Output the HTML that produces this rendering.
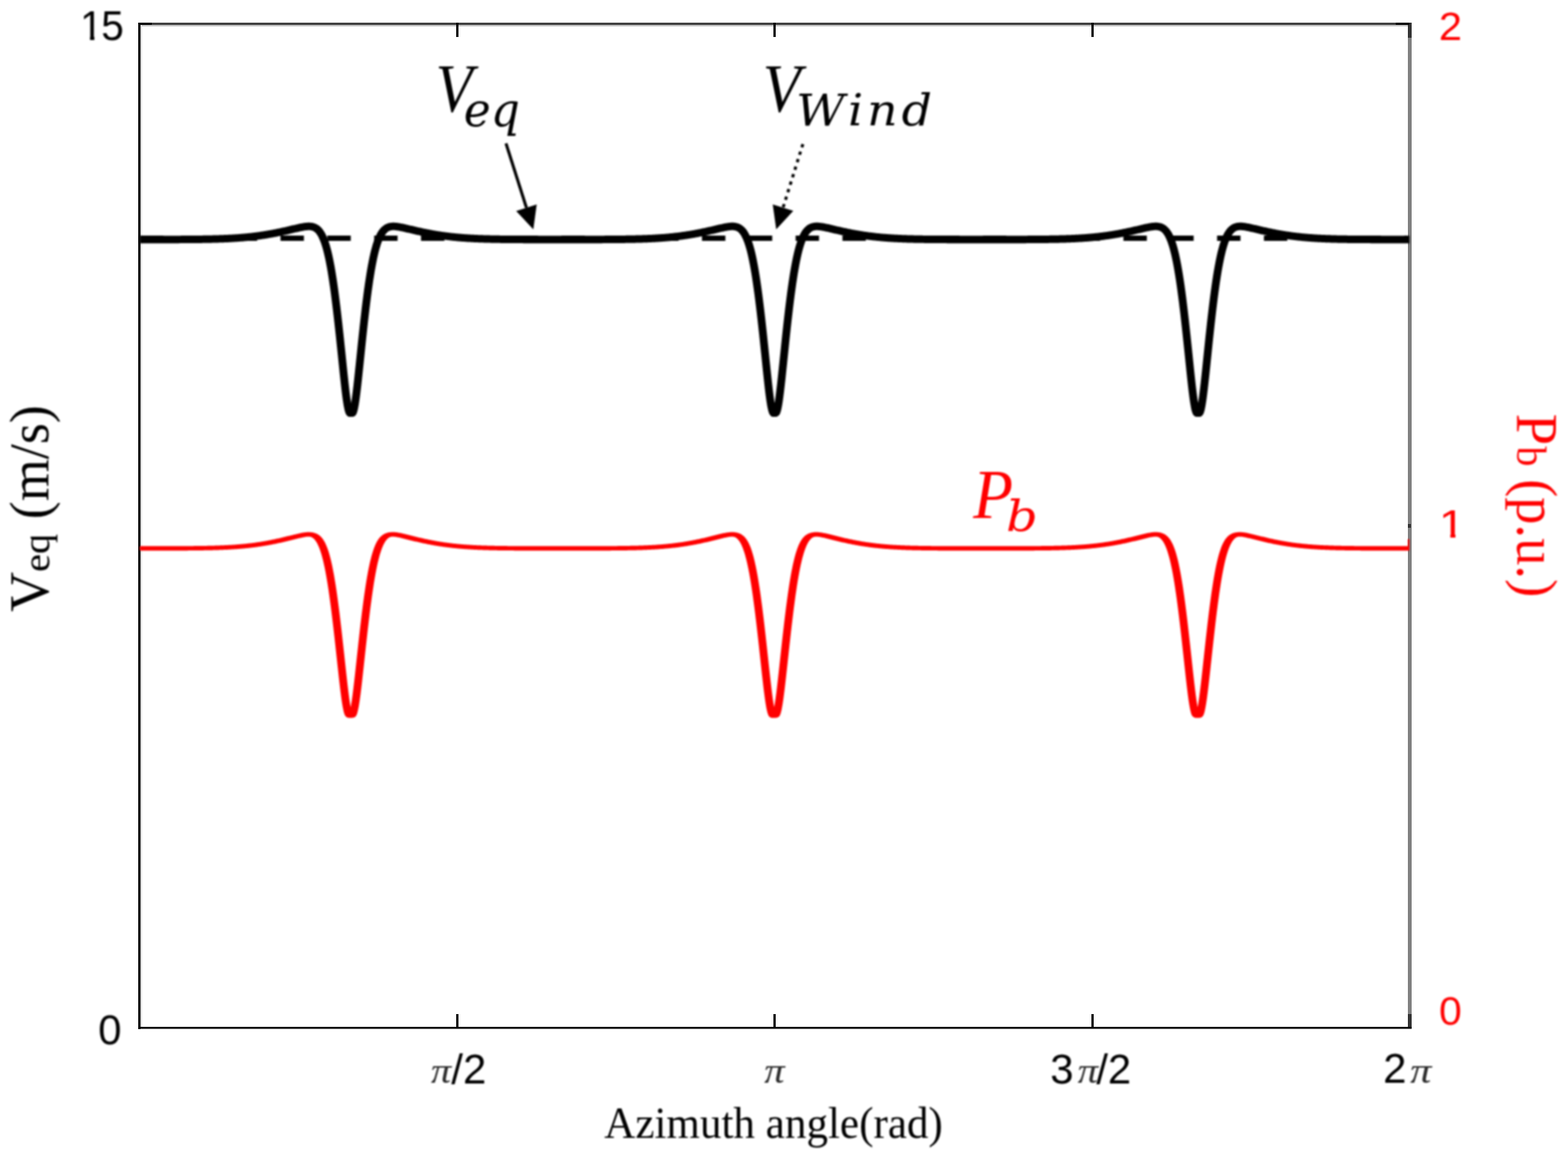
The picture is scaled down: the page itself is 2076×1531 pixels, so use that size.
<!DOCTYPE html>
<html lang="en"><head><meta charset="utf-8"><title>Equivalent wind speed and blade power vs azimuth angle</title>
<style>html,body{margin:0;padding:0;background:#fff}#fig{position:relative;width:2076px;height:1531px;overflow:hidden;background:#fff}#ink{position:absolute;left:0;top:0;width:2076px;height:1531px;filter:blur(0.8px)}#fig svg{position:absolute;left:0;top:0;display:block}.t{position:absolute;left:0;top:0;margin:0;white-space:nowrap;font-size:0;line-height:0}.t span{display:inline-block;width:0;height:0;vertical-align:top;white-space:pre;line-height:1;transform-origin:0 0}</style></head><body><div id="fig">
<svg width="2076" height="1531" viewBox="0 0 2076 1531">
<rect width="2076" height="1531" fill="#fff"/>
<g shape-rendering="crispEdges">
<rect x="183" y="30" width="1686" height="3" fill="#404040"/>
<rect x="186" y="33" width="1678" height="2" fill="#c4c4c4"/>
<rect x="1864" y="30" width="5" height="1332" fill="#808080"/>
<rect x="1864" y="30" width="5" height="20" fill="#333"/>
<rect x="1864" y="1343" width="5" height="19" fill="#333"/>
<rect x="1864" y="694" width="4" height="5" fill="#333"/>
<rect x="186" y="33" width="2" height="1327" fill="#ddd"/>
<rect x="183" y="30" width="3" height="1333" fill="#000"/>
</g><rect x="183" y="1359.95" width="1686" height="2.6" fill="#000"/><g shape-rendering="crispEdges">
<rect x="183" y="30" width="18" height="3" fill="#000"/>
<rect x="1848" y="30" width="18" height="3" fill="#000"/>
<rect x="603.5" y="1343" width="3" height="18" fill="#000"/>
<rect x="603.5" y="30" width="3" height="19" fill="#000"/>
<rect x="1024.0" y="1343" width="3" height="18" fill="#000"/>
<rect x="1024.0" y="30" width="3" height="19" fill="#000"/>
<rect x="1444.5" y="1343" width="3" height="18" fill="#000"/>
<rect x="1444.5" y="30" width="3" height="19" fill="#000"/>
</g></svg>
<div id="ink"><svg width="2076" height="1531" viewBox="0 0 2076 1531">
<line x1="185.4" y1="315.45" x2="1864" y2="315.45" stroke="#000" stroke-width="7" stroke-dasharray="31 31"/>
<g transform="scale(1 0.970)"><path d="M185 327.00L186 327.00L187 327.00L188 327.00L189 327.00L190 327.00L191 327.00L192 327.00L193 327.00L194 327.00L195 327.00L196 327.00L197 327.00L198 327.00L199 327.00L200 327.00L201 327.00L202 327.00L203 327.00L204 327.00L205 327.00L206 327.00L207 327.00L208 326.99L209 326.99L210 326.99L211 326.99L212 326.99L213 326.99L214 326.99L215 326.99L216 326.99L217 326.98L218 326.98L219 326.98L220 326.98L221 326.98L222 326.98L223 326.97L224 326.97L225 326.97L226 326.97L227 326.97L228 326.96L229 326.96L230 326.96L231 326.96L232 326.95L233 326.95L234 326.95L235 326.94L236 326.94L237 326.94L238 326.93L239 326.93L240 326.92L241 326.92L242 326.91L243 326.91L244 326.90L245 326.90L246 326.89L247 326.89L248 326.88L249 326.87L250 326.87L251 326.86L252 326.85L253 326.84L254 326.83L255 326.83L256 326.82L257 326.81L258 326.80L259 326.79L260 326.78L261 326.77L262 326.75L263 326.74L264 326.73L265 326.72L266 326.70L267 326.69L268 326.67L269 326.66L270 326.64L271 326.63L272 326.61L273 326.59L274 326.57L275 326.55L276 326.53L277 326.51L278 326.49L279 326.47L280 326.44L281 326.42L282 326.39L283 326.37L284 326.34L285 326.31L286 326.28L287 326.25L288 326.22L289 326.19L290 326.16L291 326.12L292 326.09L293 326.05L294 326.01L295 325.97L296 325.93L297 325.89L298 325.84L299 325.80L300 325.75L301 325.70L302 325.66L303 325.60L304 325.55L305 325.50L306 325.44L307 325.38L308 325.32L309 325.26L310 325.20L311 325.14L312 325.07L313 325.00L314 324.93L315 324.86L316 324.78L317 324.71L318 324.63L319 324.55L320 324.46L321 324.38L322 324.29L323 324.20L324 324.11L325 324.01L326 323.92L327 323.82L328 323.72L329 323.61L330 323.51L331 323.40L332 323.29L333 323.17L334 323.06L335 322.94L336 322.82L337 322.69L338 322.56L339 322.43L340 322.30L341 322.17L342 322.03L343 321.89L344 321.74L345 321.60L346 321.45L347 321.30L348 321.14L349 320.98L350 320.82L351 320.66L352 320.49L353 320.32L354 320.15L355 319.98L356 319.80L357 319.62L358 319.44L359 319.25L360 319.06L361 318.87L362 318.68L363 318.48L364 318.28L365 318.08L366 317.87L367 317.67L368 317.46L369 317.25L370 317.03L371 316.81L372 316.60L373 316.37L374 316.15L375 315.93L376 315.70L377 315.47L378 315.24L379 315.00L380 314.77L381 314.53L382 314.30L383 314.06L384 313.82L385 313.58L386 313.33L387 313.09L388 312.85L389 312.61L390 312.37L391 312.13L392 311.89L393 311.65L394 311.42L395 311.19L396 310.96L397 310.74L398 310.52L399 310.32L400 310.12L401 309.93L402 309.75L403 309.59L404 309.44L405 309.31L406 309.21L407 309.13L408 309.08L409 309.07L410 309.09L411 309.15L412 309.27L413 309.44L414 309.68L415 309.98L416 310.37L417 310.84L418 311.42L419 312.10L420 312.90L421 313.84L422 314.93L423 316.18L424 317.60L425 319.22L426 321.05L427 323.10L428 325.39L429 327.94L430 330.76L431 333.88L432 337.31L433 341.07L434 345.16L435 349.61L436 354.43L437 359.62L438 365.19L439 371.16L440 377.51L441 384.26L442 391.39L443 398.90L444 406.77L445 415.00L446 423.56L447 432.44L448 441.60L449 451.03L450 460.68L451 470.53L452 480.51L453 490.57L454 500.61L455 510.53L456 520.18L457 529.38L458 537.95L459 545.66L460 552.30L461 557.66L461.40 559.41L462 561.55L462.40 562.64L463 563.73L463.40 564.02L464 564.02L464.40 564.02L465 564.02L465.40 564.02L466 564.02L466.40 564.02L467 563.44L467.40 562.64L468 560.90L468.40 559.41L469 556.70L470 551.07L471 544.20L472 536.30L473 527.59L474 518.28L475 508.56L476 498.61L477 488.56L478 478.51L479 468.55L480 458.73L481 449.12L482 439.75L483 430.64L484 421.82L485 413.33L486 405.17L487 397.37L488 389.93L489 382.88L490 376.21L491 369.93L492 364.05L493 358.55L494 353.43L495 348.69L496 344.31L497 340.29L498 336.60L499 333.24L500 330.18L501 327.41L502 324.91L503 322.67L504 320.66L505 318.88L506 317.30L507 315.92L508 314.70L509 313.64L510 312.73L511 311.95L512 311.29L513 310.74L514 310.28L515 309.92L516 309.63L517 309.40L518 309.24L519 309.14L520 309.08L521 309.07L522 309.09L523 309.14L524 309.23L525 309.34L526 309.47L527 309.62L528 309.78L529 309.96L530 310.15L531 310.36L532 310.57L533 310.78L534 311.01L535 311.23L536 311.46L537 311.70L538 311.94L539 312.18L540 312.42L541 312.66L542 312.90L543 313.14L544 313.38L545 313.62L546 313.86L547 314.10L548 314.34L549 314.58L550 314.82L551 315.05L552 315.28L553 315.51L554 315.74L555 315.97L556 316.20L557 316.42L558 316.64L559 316.86L560 317.07L561 317.29L562 317.50L563 317.71L564 317.92L565 318.12L566 318.32L567 318.52L568 318.72L569 318.91L570 319.10L571 319.29L572 319.47L573 319.66L574 319.84L575 320.01L576 320.19L577 320.36L578 320.53L579 320.69L580 320.85L581 321.01L582 321.17L583 321.33L584 321.48L585 321.63L586 321.77L587 321.92L588 322.06L589 322.19L590 322.33L591 322.46L592 322.59L593 322.72L594 322.84L595 322.96L596 323.08L597 323.20L598 323.31L599 323.42L600 323.53L601 323.63L602 323.74L603 323.84L604 323.94L605 324.03L606 324.13L607 324.22L608 324.31L609 324.40L610 324.48L611 324.56L612 324.64L613 324.72L614 324.80L615 324.87L616 324.94L617 325.01L618 325.08L619 325.15L620 325.21L621 325.28L622 325.34L623 325.40L624 325.45L625 325.51L626 325.56L627 325.61L628 325.67L629 325.71L630 325.76L631 325.81L632 325.85L633 325.90L634 325.94L635 325.98L636 326.02L637 326.06L638 326.09L639 326.13L640 326.16L641 326.20L642 326.23L643 326.26L644 326.29L645 326.32L646 326.35L647 326.37L648 326.40L649 326.42L650 326.45L651 326.47L652 326.49L653 326.52L654 326.54L655 326.56L656 326.58L657 326.59L658 326.61L659 326.63L660 326.65L661 326.66L662 326.68L663 326.69L664 326.71L665 326.72L666 326.73L667 326.74L668 326.76L669 326.77L670 326.78L671 326.79L672 326.80L673 326.81L674 326.82L675 326.83L676 326.84L677 326.84L678 326.85L679 326.86L680 326.87L681 326.87L682 326.88L683 326.89L684 326.89L685 326.90L686 326.90L687 326.91L688 326.91L689 326.92L690 326.92L691 326.93L692 326.93L693 326.94L694 326.94L695 326.94L696 326.95L697 326.95L698 326.95L699 326.96L700 326.96L701 326.96L702 326.96L703 326.97L704 326.97L705 326.97L706 326.97L707 326.97L708 326.98L709 326.98L710 326.98L711 326.98L712 326.98L713 326.98L714 326.99L715 326.99L716 326.99L717 326.99L718 326.99L719 326.99L720 326.99L721 326.99L722 326.99L723 327.00L724 327.00L725 327.00L726 327.00L727 327.00L728 327.00L729 327.00L730 327.00L731 327.00L732 327.00L733 327.00L734 327.00L735 327.00L736 327.00L737 327.00L738 327.00L739 327.00L740 327.00L741 327.00L742 327.00L743 327.00L744 327.00L745 327.00L746 327.00L747 327.00L748 327.00L749 327.00L750 327.00L751 327.00L752 327.00L753 327.00L754 327.00L755 327.00L756 327.00L757 327.00L758 327.00L759 327.00L760 327.00L761 327.00L762 327.00L763 327.00L764 327.00L765 327.00L766 327.00L767 327.00L768 326.99L769 326.99L770 326.99L771 326.99L772 326.99L773 326.99L774 326.99L775 326.99L776 326.99L777 326.99L778 326.98L779 326.98L780 326.98L781 326.98L782 326.98L783 326.98L784 326.97L785 326.97L786 326.97L787 326.97L788 326.97L789 326.96L790 326.96L791 326.96L792 326.95L793 326.95L794 326.95L795 326.94L796 326.94L797 326.94L798 326.93L799 326.93L800 326.93L801 326.92L802 326.92L803 326.91L804 326.91L805 326.90L806 326.90L807 326.89L808 326.88L809 326.88L810 326.87L811 326.86L812 326.86L813 326.85L814 326.84L815 326.83L816 326.82L817 326.81L818 326.80L819 326.79L820 326.78L821 326.77L822 326.76L823 326.75L824 326.74L825 326.73L826 326.71L827 326.70L828 326.68L829 326.67L830 326.65L831 326.64L832 326.62L833 326.60L834 326.58L835 326.57L836 326.55L837 326.53L838 326.50L839 326.48L840 326.46L841 326.44L842 326.41L843 326.39L844 326.36L845 326.33L846 326.30L847 326.27L848 326.24L849 326.21L850 326.18L851 326.14L852 326.11L853 326.07L854 326.04L855 326.00L856 325.96L857 325.92L858 325.87L859 325.83L860 325.78L861 325.74L862 325.69L863 325.64L864 325.59L865 325.53L866 325.48L867 325.42L868 325.36L869 325.30L870 325.24L871 325.18L872 325.11L873 325.05L874 324.98L875 324.91L876 324.83L877 324.76L878 324.68L879 324.60L880 324.52L881 324.44L882 324.35L883 324.26L884 324.17L885 324.08L886 323.98L887 323.89L888 323.79L889 323.68L890 323.58L891 323.47L892 323.36L893 323.25L894 323.13L895 323.02L896 322.90L897 322.77L898 322.65L899 322.52L900 322.39L901 322.26L902 322.12L903 321.98L904 321.84L905 321.69L906 321.55L907 321.40L908 321.24L909 321.09L910 320.93L911 320.77L912 320.60L913 320.44L914 320.27L915 320.09L916 319.92L917 319.74L918 319.56L919 319.37L920 319.19L921 319.00L922 318.81L923 318.61L924 318.41L925 318.21L926 318.01L927 317.81L928 317.60L929 317.39L930 317.17L931 316.96L932 316.74L933 316.52L934 316.30L935 316.08L936 315.85L937 315.62L938 315.39L939 315.16L940 314.93L941 314.69L942 314.45L943 314.22L944 313.98L945 313.74L946 313.50L947 313.25L948 313.01L949 312.77L950 312.53L951 312.29L952 312.05L953 311.81L954 311.57L955 311.34L956 311.11L957 310.89L958 310.67L959 310.45L960 310.25L961 310.05L962 309.87L963 309.69L964 309.54L965 309.40L966 309.28L967 309.18L968 309.11L969 309.07L970 309.07L971 309.11L972 309.19L973 309.32L974 309.51L975 309.77L976 310.10L977 310.52L978 311.02L979 311.63L980 312.35L981 313.20L982 314.19L983 315.33L984 316.63L985 318.12L986 319.81L987 321.70L988 323.83L989 326.21L990 328.85L991 331.77L992 334.99L993 338.53L994 342.39L995 346.60L996 351.17L997 356.11L998 361.43L999 367.14L1000 373.23L1001 379.72L1002 386.59L1003 393.85L1004 401.48L1005 409.48L1006 417.82L1007 426.49L1008 435.46L1009 444.71L1010 454.22L1011 463.95L1012 473.84L1013 483.86L1014 493.93L1015 503.94L1016 513.78L1017 523.30L1018 532.32L1019 540.63L1020 548.00L1021 554.24L1022 559.13L1022.07 559.41L1023 562.48L1023.07 562.64L1024 564.00L1024.07 564.02L1025 564.02L1025.07 564.02L1026 564.02L1026.07 564.02L1027 564.03L1027.07 564.02L1028 562.79L1028.07 562.64L1029 559.67L1029.07 559.41L1030 554.98L1031 548.91L1032 541.67L1033 533.47L1034 524.54L1035 515.08L1036 505.27L1037 495.27L1038 485.20L1039 475.17L1040 465.26L1041 455.51L1042 445.97L1043 436.68L1044 427.66L1045 418.95L1046 410.57L1047 402.53L1048 394.85L1049 387.54L1050 380.61L1051 374.07L1052 367.93L1053 362.17L1054 356.80L1055 351.81L1056 347.19L1057 342.93L1058 339.02L1059 335.44L1060 332.18L1061 329.22L1062 326.54L1063 324.13L1064 321.97L1065 320.05L1066 318.33L1067 316.82L1068 315.49L1069 314.33L1070 313.33L1071 312.46L1072 311.72L1073 311.10L1074 310.58L1075 310.15L1076 309.81L1077 309.54L1078 309.34L1079 309.20L1080 309.11L1081 309.07L1082 309.07L1083 309.10L1084 309.17L1085 309.26L1086 309.38L1087 309.52L1088 309.67L1089 309.84L1090 310.03L1091 310.22L1092 310.43L1093 310.64L1094 310.86L1095 311.08L1096 311.31L1097 311.54L1098 311.78L1099 312.02L1100 312.26L1101 312.50L1102 312.74L1103 312.98L1104 313.22L1105 313.46L1106 313.70L1107 313.94L1108 314.18L1109 314.42L1110 314.66L1111 314.89L1112 315.13L1113 315.36L1114 315.59L1115 315.82L1116 316.05L1117 316.27L1118 316.49L1119 316.71L1120 316.93L1121 317.15L1122 317.36L1123 317.57L1124 317.78L1125 317.98L1126 318.19L1127 318.39L1128 318.59L1129 318.78L1130 318.97L1131 319.16L1132 319.35L1133 319.53L1134 319.72L1135 319.89L1136 320.07L1137 320.24L1138 320.41L1139 320.58L1140 320.75L1141 320.91L1142 321.07L1143 321.22L1144 321.38L1145 321.53L1146 321.68L1147 321.82L1148 321.96L1149 322.10L1150 322.24L1151 322.37L1152 322.50L1153 322.63L1154 322.76L1155 322.88L1156 323.00L1157 323.12L1158 323.23L1159 323.35L1160 323.46L1161 323.56L1162 323.67L1163 323.77L1164 323.87L1165 323.97L1166 324.07L1167 324.16L1168 324.25L1169 324.34L1170 324.42L1171 324.51L1172 324.59L1173 324.67L1174 324.75L1175 324.82L1176 324.90L1177 324.97L1178 325.04L1179 325.10L1180 325.17L1181 325.23L1182 325.30L1183 325.36L1184 325.41L1185 325.47L1186 325.53L1187 325.58L1188 325.63L1189 325.68L1190 325.73L1191 325.78L1192 325.82L1193 325.87L1194 325.91L1195 325.95L1196 325.99L1197 326.03L1198 326.07L1199 326.11L1200 326.14L1201 326.17L1202 326.21L1203 326.24L1204 326.27L1205 326.30L1206 326.33L1207 326.36L1208 326.38L1209 326.41L1210 326.43L1211 326.46L1212 326.48L1213 326.50L1214 326.52L1215 326.54L1216 326.56L1217 326.58L1218 326.60L1219 326.62L1220 326.63L1221 326.65L1222 326.67L1223 326.68L1224 326.70L1225 326.71L1226 326.72L1227 326.74L1228 326.75L1229 326.76L1230 326.77L1231 326.78L1232 326.79L1233 326.80L1234 326.81L1235 326.82L1236 326.83L1237 326.84L1238 326.85L1239 326.85L1240 326.86L1241 326.87L1242 326.88L1243 326.88L1244 326.89L1245 326.89L1246 326.90L1247 326.91L1248 326.91L1249 326.92L1250 326.92L1251 326.92L1252 326.93L1253 326.93L1254 326.94L1255 326.94L1256 326.94L1257 326.95L1258 326.95L1259 326.95L1260 326.96L1261 326.96L1262 326.96L1263 326.96L1264 326.97L1265 326.97L1266 326.97L1267 326.97L1268 326.98L1269 326.98L1270 326.98L1271 326.98L1272 326.98L1273 326.98L1274 326.99L1275 326.99L1276 326.99L1277 326.99L1278 326.99L1279 326.99L1280 326.99L1281 326.99L1282 326.99L1283 326.99L1284 327.00L1285 327.00L1286 327.00L1287 327.00L1288 327.00L1289 327.00L1290 327.00L1291 327.00L1292 327.00L1293 327.00L1294 327.00L1295 327.00L1296 327.00L1297 327.00L1298 327.00L1299 327.00L1300 327.00L1301 327.00L1302 327.00L1303 327.00L1304 327.00L1305 327.00L1306 327.00L1307 327.00L1308 327.00L1309 327.00L1310 327.00L1311 327.00L1312 327.00L1313 327.00L1314 327.00L1315 327.00L1316 327.00L1317 327.00L1318 327.00L1319 327.00L1320 327.00L1321 327.00L1322 327.00L1323 327.00L1324 327.00L1325 327.00L1326 327.00L1327 327.00L1328 327.00L1329 326.99L1330 326.99L1331 326.99L1332 326.99L1333 326.99L1334 326.99L1335 326.99L1336 326.99L1337 326.99L1338 326.98L1339 326.98L1340 326.98L1341 326.98L1342 326.98L1343 326.98L1344 326.98L1345 326.97L1346 326.97L1347 326.97L1348 326.97L1349 326.96L1350 326.96L1351 326.96L1352 326.96L1353 326.95L1354 326.95L1355 326.95L1356 326.94L1357 326.94L1358 326.94L1359 326.93L1360 326.93L1361 326.92L1362 326.92L1363 326.91L1364 326.91L1365 326.90L1366 326.90L1367 326.89L1368 326.89L1369 326.88L1370 326.87L1371 326.87L1372 326.86L1373 326.85L1374 326.85L1375 326.84L1376 326.83L1377 326.82L1378 326.81L1379 326.80L1380 326.79L1381 326.78L1382 326.77L1383 326.76L1384 326.75L1385 326.73L1386 326.72L1387 326.71L1388 326.69L1389 326.68L1390 326.66L1391 326.65L1392 326.63L1393 326.61L1394 326.60L1395 326.58L1396 326.56L1397 326.54L1398 326.52L1399 326.50L1400 326.47L1401 326.45L1402 326.43L1403 326.40L1404 326.38L1405 326.35L1406 326.32L1407 326.29L1408 326.26L1409 326.23L1410 326.20L1411 326.17L1412 326.13L1413 326.10L1414 326.06L1415 326.02L1416 325.98L1417 325.94L1418 325.90L1419 325.86L1420 325.81L1421 325.77L1422 325.72L1423 325.67L1424 325.62L1425 325.57L1426 325.52L1427 325.46L1428 325.40L1429 325.34L1430 325.28L1431 325.22L1432 325.16L1433 325.09L1434 325.02L1435 324.95L1436 324.88L1437 324.81L1438 324.73L1439 324.65L1440 324.57L1441 324.49L1442 324.41L1443 324.32L1444 324.23L1445 324.14L1446 324.05L1447 323.95L1448 323.85L1449 323.75L1450 323.65L1451 323.54L1452 323.44L1453 323.32L1454 323.21L1455 323.10L1456 322.98L1457 322.86L1458 322.73L1459 322.61L1460 322.48L1461 322.35L1462 322.21L1463 322.07L1464 321.93L1465 321.79L1466 321.65L1467 321.50L1468 321.35L1469 321.19L1470 321.04L1471 320.88L1472 320.71L1473 320.55L1474 320.38L1475 320.21L1476 320.04L1477 319.86L1478 319.68L1479 319.50L1480 319.31L1481 319.13L1482 318.93L1483 318.74L1484 318.55L1485 318.35L1486 318.15L1487 317.94L1488 317.74L1489 317.53L1490 317.32L1491 317.10L1492 316.89L1493 316.67L1494 316.45L1495 316.23L1496 316.00L1497 315.77L1498 315.54L1499 315.31L1500 315.08L1501 314.85L1502 314.61L1503 314.37L1504 314.14L1505 313.90L1506 313.66L1507 313.41L1508 313.17L1509 312.93L1510 312.69L1511 312.45L1512 312.21L1513 311.97L1514 311.73L1515 311.50L1516 311.26L1517 311.04L1518 310.81L1519 310.59L1520 310.38L1521 310.18L1522 309.99L1523 309.81L1524 309.64L1525 309.49L1526 309.35L1527 309.24L1528 309.15L1529 309.09L1530 309.07L1531 309.08L1532 309.13L1533 309.23L1534 309.38L1535 309.59L1536 309.87L1537 310.23L1538 310.67L1539 311.21L1540 311.86L1541 312.62L1542 313.52L1543 314.55L1544 315.74L1545 317.11L1546 318.66L1547 320.41L1548 322.39L1549 324.60L1550 327.06L1551 329.79L1552 332.81L1553 336.13L1554 339.78L1555 343.76L1556 348.09L1557 352.78L1558 357.84L1559 363.29L1560 369.12L1561 375.35L1562 381.96L1563 388.97L1564 396.35L1565 404.11L1566 412.22L1567 420.67L1568 429.44L1569 438.51L1570 447.86L1571 457.44L1572 467.23L1573 477.17L1574 487.22L1575 497.27L1576 507.25L1577 517.00L1578 526.38L1579 535.18L1580 543.20L1581 550.22L1582 556.03L1582.73 559.41L1583 560.43L1583.73 562.64L1584 563.21L1584.73 564.02L1585 564.03L1585.73 564.02L1586 564.02L1586.73 564.02L1587 564.02L1587.73 564.02L1588 563.87L1588.73 562.64L1589 561.94L1589.73 559.41L1590 558.27L1591 553.10L1592 546.61L1593 539.03L1594 530.57L1595 521.44L1596 511.84L1597 501.95L1598 491.91L1599 481.85L1600 471.85L1601 461.98L1602 452.30L1603 442.84L1604 433.64L1605 424.73L1606 416.12L1607 407.85L1608 399.93L1609 392.37L1610 385.18L1611 378.39L1612 371.98L1613 365.96L1614 360.34L1615 355.10L1616 350.23L1617 345.73L1618 341.59L1619 337.79L1620 334.32L1621 331.16L1622 328.30L1623 325.71L1624 323.39L1625 321.31L1626 319.45L1627 317.81L1628 316.36L1629 315.09L1630 313.98L1631 313.02L1632 312.20L1633 311.50L1634 310.91L1635 310.43L1636 310.03L1637 309.71L1638 309.47L1639 309.29L1640 309.17L1641 309.09L1642 309.07L1643 309.08L1644 309.12L1645 309.20L1646 309.30L1647 309.42L1648 309.57L1649 309.73L1650 309.90L1651 310.09L1652 310.29L1653 310.50L1654 310.71L1655 310.93L1656 311.16L1657 311.39L1658 311.62L1659 311.86L1660 312.10L1661 312.34L1662 312.58L1663 312.82L1664 313.06L1665 313.30L1666 313.54L1667 313.78L1668 314.02L1669 314.26L1670 314.50L1671 314.74L1672 314.97L1673 315.21L1674 315.44L1675 315.67L1676 315.90L1677 316.12L1678 316.34L1679 316.57L1680 316.79L1681 317.00L1682 317.22L1683 317.43L1684 317.64L1685 317.85L1686 318.05L1687 318.25L1688 318.45L1689 318.65L1690 318.85L1691 319.04L1692 319.23L1693 319.41L1694 319.60L1695 319.78L1696 319.95L1697 320.13L1698 320.30L1699 320.47L1700 320.64L1701 320.80L1702 320.96L1703 321.12L1704 321.28L1705 321.43L1706 321.58L1707 321.72L1708 321.87L1709 322.01L1710 322.15L1711 322.28L1712 322.42L1713 322.55L1714 322.67L1715 322.80L1716 322.92L1717 323.04L1718 323.16L1719 323.27L1720 323.38L1721 323.49L1722 323.60L1723 323.70L1724 323.81L1725 323.91L1726 324.00L1727 324.10L1728 324.19L1729 324.28L1730 324.37L1731 324.45L1732 324.54L1733 324.62L1734 324.70L1735 324.77L1736 324.85L1737 324.92L1738 324.99L1739 325.06L1740 325.13L1741 325.19L1742 325.25L1743 325.32L1744 325.38L1745 325.43L1746 325.49L1747 325.54L1748 325.60L1749 325.65L1750 325.70L1751 325.75L1752 325.79L1753 325.84L1754 325.88L1755 325.92L1756 325.97L1757 326.01L1758 326.04L1759 326.08L1760 326.12L1761 326.15L1762 326.19L1763 326.22L1764 326.25L1765 326.28L1766 326.31L1767 326.34L1768 326.36L1769 326.39L1770 326.42L1771 326.44L1772 326.46L1773 326.49L1774 326.51L1775 326.53L1776 326.55L1777 326.57L1778 326.59L1779 326.61L1780 326.62L1781 326.64L1782 326.66L1783 326.67L1784 326.69L1785 326.70L1786 326.71L1787 326.73L1788 326.74L1789 326.75L1790 326.76L1791 326.78L1792 326.79L1793 326.80L1794 326.81L1795 326.82L1796 326.82L1797 326.83L1798 326.84L1799 326.85L1800 326.86L1801 326.86L1802 326.87L1803 326.88L1804 326.88L1805 326.89L1806 326.90L1807 326.90L1808 326.91L1809 326.91L1810 326.92L1811 326.92L1812 326.93L1813 326.93L1814 326.93L1815 326.94L1816 326.94L1817 326.95L1818 326.95L1819 326.95L1820 326.96L1821 326.96L1822 326.96L1823 326.96L1824 326.97L1825 326.97L1826 326.97L1827 326.97L1828 326.97L1829 326.98L1830 326.98L1831 326.98L1832 326.98L1833 326.98L1834 326.98L1835 326.99L1836 326.99L1837 326.99L1838 326.99L1839 326.99L1840 326.99L1841 326.99L1842 326.99L1843 326.99L1844 327.00L1845 327.00L1846 327.00L1847 327.00L1848 327.00L1849 327.00L1850 327.00L1851 327.00L1852 327.00L1853 327.00L1854 327.00L1855 327.00L1856 327.00L1857 327.00L1858 327.00L1859 327.00L1860 327.00L1861 327.00L1862 327.00L1863 327.00L1864 327.00L1865 327.00L1866 327.00" fill="none" stroke="#000" stroke-width="10.30" stroke-linejoin="round" stroke-linecap="butt"/></g>
<g transform="scale(1 0.570)"><path d="M185 1274.20L186 1274.20L187 1274.20L188 1274.20L189 1274.20L190 1274.20L191 1274.20L192 1274.20L193 1274.20L194 1274.19L195 1274.19L196 1274.19L197 1274.19L198 1274.19L199 1274.19L200 1274.19L201 1274.19L202 1274.19L203 1274.19L204 1274.19L205 1274.19L206 1274.18L207 1274.18L208 1274.18L209 1274.18L210 1274.18L211 1274.18L212 1274.17L213 1274.17L214 1274.17L215 1274.17L216 1274.17L217 1274.16L218 1274.16L219 1274.16L220 1274.15L221 1274.15L222 1274.15L223 1274.14L224 1274.14L225 1274.14L226 1274.13L227 1274.13L228 1274.12L229 1274.12L230 1274.11L231 1274.11L232 1274.10L233 1274.10L234 1274.09L235 1274.08L236 1274.08L237 1274.07L238 1274.06L239 1274.06L240 1274.05L241 1274.04L242 1274.03L243 1274.02L244 1274.01L245 1274.00L246 1273.99L247 1273.98L248 1273.97L249 1273.95L250 1273.94L251 1273.93L252 1273.91L253 1273.90L254 1273.88L255 1273.87L256 1273.85L257 1273.83L258 1273.82L259 1273.80L260 1273.78L261 1273.76L262 1273.74L263 1273.71L264 1273.69L265 1273.67L266 1273.64L267 1273.61L268 1273.59L269 1273.56L270 1273.53L271 1273.50L272 1273.47L273 1273.43L274 1273.40L275 1273.36L276 1273.33L277 1273.29L278 1273.25L279 1273.21L280 1273.16L281 1273.12L282 1273.07L283 1273.02L284 1272.97L285 1272.92L286 1272.87L287 1272.81L288 1272.76L289 1272.70L290 1272.63L291 1272.57L292 1272.50L293 1272.44L294 1272.37L295 1272.29L296 1272.22L297 1272.14L298 1272.06L299 1271.98L300 1271.89L301 1271.80L302 1271.71L303 1271.62L304 1271.52L305 1271.42L306 1271.32L307 1271.21L308 1271.11L309 1270.99L310 1270.88L311 1270.76L312 1270.64L313 1270.51L314 1270.38L315 1270.25L316 1270.11L317 1269.97L318 1269.83L319 1269.68L320 1269.53L321 1269.37L322 1269.21L323 1269.05L324 1268.88L325 1268.71L326 1268.53L327 1268.35L328 1268.16L329 1267.97L330 1267.78L331 1267.58L332 1267.38L333 1267.17L334 1266.96L335 1266.74L336 1266.51L337 1266.29L338 1266.06L339 1265.82L340 1265.58L341 1265.33L342 1265.08L343 1264.82L344 1264.56L345 1264.29L346 1264.02L347 1263.74L348 1263.46L349 1263.17L350 1262.88L351 1262.58L352 1262.28L353 1261.97L354 1261.66L355 1261.34L356 1261.02L357 1260.69L358 1260.36L359 1260.02L360 1259.68L361 1259.33L362 1258.98L363 1258.62L364 1258.26L365 1257.89L366 1257.52L367 1257.14L368 1256.76L369 1256.38L370 1255.99L371 1255.59L372 1255.20L373 1254.80L374 1254.39L375 1253.98L376 1253.57L377 1253.15L378 1252.73L379 1252.31L380 1251.89L381 1251.46L382 1251.03L383 1250.59L384 1250.16L385 1249.72L386 1249.28L387 1248.85L388 1248.41L389 1247.97L390 1247.53L391 1247.10L392 1246.66L393 1246.23L394 1245.81L395 1245.39L396 1244.98L397 1244.58L398 1244.19L399 1243.81L400 1243.45L401 1243.11L402 1242.79L403 1242.50L404 1242.24L405 1242.02L406 1241.83L407 1241.70L408 1241.62L409 1241.61L410 1241.67L411 1241.82L412 1242.05L413 1242.40L414 1242.87L415 1243.47L416 1244.23L417 1245.15L418 1246.27L419 1247.60L420 1249.16L421 1250.97L422 1253.06L423 1255.47L424 1258.20L425 1261.29L426 1264.78L427 1268.68L428 1273.03L429 1277.86L430 1283.19L431 1289.05L432 1295.48L433 1302.48L434 1310.08L435 1318.30L436 1327.16L437 1336.66L438 1346.81L439 1357.60L440 1369.03L441 1381.08L442 1393.74L443 1406.97L444 1420.75L445 1435.04L446 1449.78L447 1464.94L448 1480.47L449 1496.28L450 1512.33L451 1528.51L452 1544.73L453 1560.83L454 1576.66L455 1591.98L456 1606.56L457 1620.09L458 1632.27L459 1642.78L460 1651.33L460.80 1656.60L461 1657.69L461.80 1661.04L462 1661.62L462.80 1662.82L463 1662.82L463.80 1662.81L464 1662.81L464.80 1662.81L465 1662.81L465.80 1662.82L466 1662.70L466.80 1661.04L467 1660.35L467.80 1656.60L468 1655.43L469 1648.16L470 1638.79L471 1627.58L472 1614.82L473 1600.84L474 1585.93L475 1570.37L476 1554.41L477 1538.25L478 1522.03L479 1505.89L480 1489.93L481 1474.22L482 1458.83L483 1443.83L484 1429.26L485 1415.18L486 1401.61L487 1388.60L488 1376.18L489 1364.38L490 1353.20L491 1342.67L492 1332.78L493 1323.54L494 1314.94L495 1306.97L496 1299.61L497 1292.84L498 1286.64L499 1281.00L500 1275.87L501 1271.24L502 1267.07L503 1263.34L504 1260.01L505 1257.06L506 1254.47L507 1252.19L508 1250.21L509 1248.50L510 1247.04L511 1245.80L512 1244.76L513 1243.91L514 1243.21L515 1242.67L516 1242.25L517 1241.95L518 1241.75L519 1241.64L520 1241.61L521 1241.65L522 1241.75L523 1241.90L524 1242.10L525 1242.34L526 1242.61L527 1242.92L528 1243.24L529 1243.59L530 1243.96L531 1244.34L532 1244.74L533 1245.14L534 1245.56L535 1245.98L536 1246.41L537 1246.84L538 1247.27L539 1247.71L540 1248.14L541 1248.58L542 1249.02L543 1249.46L544 1249.90L545 1250.33L546 1250.77L547 1251.20L548 1251.63L549 1252.06L550 1252.48L551 1252.90L552 1253.32L553 1253.73L554 1254.15L555 1254.55L556 1254.96L557 1255.36L558 1255.75L559 1256.14L560 1256.53L561 1256.92L562 1257.29L563 1257.67L564 1258.04L565 1258.40L566 1258.76L567 1259.12L568 1259.47L569 1259.81L570 1260.16L571 1260.49L572 1260.82L573 1261.15L574 1261.47L575 1261.79L576 1262.10L577 1262.40L578 1262.70L579 1263.00L580 1263.29L581 1263.57L582 1263.85L583 1264.13L584 1264.40L585 1264.66L586 1264.92L587 1265.18L588 1265.43L589 1265.67L590 1265.91L591 1266.15L592 1266.38L593 1266.60L594 1266.83L595 1267.04L596 1267.25L597 1267.46L598 1267.66L599 1267.86L600 1268.05L601 1268.24L602 1268.42L603 1268.60L604 1268.78L605 1268.95L606 1269.11L607 1269.28L608 1269.43L609 1269.59L610 1269.74L611 1269.89L612 1270.03L613 1270.17L614 1270.30L615 1270.43L616 1270.56L617 1270.69L618 1270.81L619 1270.92L620 1271.04L621 1271.15L622 1271.26L623 1271.36L624 1271.46L625 1271.56L626 1271.66L627 1271.75L628 1271.84L629 1271.93L630 1272.01L631 1272.09L632 1272.17L633 1272.25L634 1272.32L635 1272.39L636 1272.46L637 1272.53L638 1272.60L639 1272.66L640 1272.72L641 1272.78L642 1272.83L643 1272.89L644 1272.94L645 1272.99L646 1273.04L647 1273.09L648 1273.14L649 1273.18L650 1273.22L651 1273.26L652 1273.30L653 1273.34L654 1273.38L655 1273.41L656 1273.45L657 1273.48L658 1273.51L659 1273.54L660 1273.57L661 1273.60L662 1273.63L663 1273.65L664 1273.68L665 1273.70L666 1273.72L667 1273.74L668 1273.77L669 1273.79L670 1273.81L671 1273.82L672 1273.84L673 1273.86L674 1273.88L675 1273.89L676 1273.91L677 1273.92L678 1273.93L679 1273.95L680 1273.96L681 1273.97L682 1273.98L683 1273.99L684 1274.00L685 1274.01L686 1274.02L687 1274.03L688 1274.04L689 1274.05L690 1274.06L691 1274.07L692 1274.07L693 1274.08L694 1274.09L695 1274.09L696 1274.10L697 1274.11L698 1274.11L699 1274.12L700 1274.12L701 1274.13L702 1274.13L703 1274.13L704 1274.14L705 1274.14L706 1274.15L707 1274.15L708 1274.15L709 1274.16L710 1274.16L711 1274.16L712 1274.16L713 1274.17L714 1274.17L715 1274.17L716 1274.17L717 1274.17L718 1274.18L719 1274.18L720 1274.18L721 1274.18L722 1274.18L723 1274.18L724 1274.19L725 1274.19L726 1274.19L727 1274.19L728 1274.19L729 1274.19L730 1274.19L731 1274.19L732 1274.19L733 1274.19L734 1274.19L735 1274.20L736 1274.20L737 1274.20L738 1274.20L739 1274.20L740 1274.20L741 1274.20L742 1274.20L743 1274.20L744 1274.20L745 1274.20L746 1274.20L747 1274.20L748 1274.20L749 1274.20L750 1274.20L751 1274.20L752 1274.20L753 1274.20L754 1274.20L755 1274.19L756 1274.19L757 1274.19L758 1274.19L759 1274.19L760 1274.19L761 1274.19L762 1274.19L763 1274.19L764 1274.19L765 1274.19L766 1274.18L767 1274.18L768 1274.18L769 1274.18L770 1274.18L771 1274.18L772 1274.18L773 1274.17L774 1274.17L775 1274.17L776 1274.17L777 1274.16L778 1274.16L779 1274.16L780 1274.16L781 1274.15L782 1274.15L783 1274.15L784 1274.14L785 1274.14L786 1274.14L787 1274.13L788 1274.13L789 1274.12L790 1274.12L791 1274.11L792 1274.11L793 1274.10L794 1274.10L795 1274.09L796 1274.08L797 1274.08L798 1274.07L799 1274.06L800 1274.05L801 1274.04L802 1274.04L803 1274.03L804 1274.02L805 1274.01L806 1274.00L807 1273.99L808 1273.97L809 1273.96L810 1273.95L811 1273.94L812 1273.92L813 1273.91L814 1273.90L815 1273.88L816 1273.86L817 1273.85L818 1273.83L819 1273.81L820 1273.79L821 1273.77L822 1273.75L823 1273.73L824 1273.71L825 1273.68L826 1273.66L827 1273.63L828 1273.61L829 1273.58L830 1273.55L831 1273.52L832 1273.49L833 1273.46L834 1273.42L835 1273.39L836 1273.35L837 1273.31L838 1273.27L839 1273.23L840 1273.19L841 1273.15L842 1273.10L843 1273.06L844 1273.01L845 1272.96L846 1272.90L847 1272.85L848 1272.79L849 1272.74L850 1272.68L851 1272.61L852 1272.55L853 1272.48L854 1272.41L855 1272.34L856 1272.27L857 1272.19L858 1272.11L859 1272.03L860 1271.95L861 1271.86L862 1271.77L863 1271.68L864 1271.59L865 1271.49L866 1271.39L867 1271.29L868 1271.18L869 1271.07L870 1270.96L871 1270.84L872 1270.72L873 1270.60L874 1270.47L875 1270.34L876 1270.20L877 1270.07L878 1269.92L879 1269.78L880 1269.63L881 1269.48L882 1269.32L883 1269.16L884 1268.99L885 1268.82L886 1268.65L887 1268.47L888 1268.29L889 1268.10L890 1267.91L891 1267.71L892 1267.51L893 1267.31L894 1267.10L895 1266.88L896 1266.66L897 1266.44L898 1266.21L899 1265.98L900 1265.74L901 1265.49L902 1265.25L903 1264.99L904 1264.73L905 1264.47L906 1264.20L907 1263.93L908 1263.65L909 1263.36L910 1263.08L911 1262.78L912 1262.48L913 1262.18L914 1261.87L915 1261.55L916 1261.23L917 1260.91L918 1260.58L919 1260.25L920 1259.91L921 1259.56L922 1259.21L923 1258.86L924 1258.50L925 1258.14L926 1257.77L927 1257.39L928 1257.02L929 1256.63L930 1256.25L931 1255.86L932 1255.46L933 1255.06L934 1254.66L935 1254.25L936 1253.84L937 1253.43L938 1253.01L939 1252.59L940 1252.17L941 1251.74L942 1251.31L943 1250.88L944 1250.45L945 1250.01L946 1249.58L947 1249.14L948 1248.70L949 1248.26L950 1247.82L951 1247.39L952 1246.95L953 1246.52L954 1246.09L955 1245.67L956 1245.25L957 1244.85L958 1244.45L959 1244.06L960 1243.69L961 1243.34L962 1243.00L963 1242.69L964 1242.41L965 1242.16L966 1241.95L967 1241.78L968 1241.67L969 1241.61L970 1241.62L971 1241.71L972 1241.88L973 1242.16L974 1242.54L975 1243.05L976 1243.71L977 1244.52L978 1245.50L979 1246.69L980 1248.09L981 1249.73L982 1251.64L983 1253.83L984 1256.34L985 1259.19L986 1262.41L987 1266.03L988 1270.08L989 1274.59L990 1279.58L991 1285.08L992 1291.13L993 1297.74L994 1304.94L995 1312.75L996 1321.19L997 1330.26L998 1339.97L999 1350.33L1000 1361.34L1001 1372.98L1002 1385.23L1003 1398.09L1004 1411.50L1005 1425.46L1006 1439.90L1007 1454.79L1008 1470.08L1009 1485.71L1010 1501.61L1011 1517.71L1012 1533.92L1013 1550.11L1014 1566.15L1015 1581.83L1016 1596.94L1017 1611.20L1018 1624.32L1019 1635.97L1020 1645.86L1021 1653.71L1021.47 1656.60L1022 1659.28L1022.47 1661.04L1023 1662.35L1023.47 1662.82L1024 1662.81L1024.47 1662.81L1025 1662.81L1025.47 1662.81L1026 1662.81L1026.47 1662.82L1027 1662.23L1027.47 1661.04L1028 1658.98L1028.47 1656.60L1029 1653.25L1030 1645.26L1031 1635.25L1032 1623.48L1033 1610.28L1034 1595.96L1035 1580.80L1036 1565.09L1037 1549.04L1038 1532.84L1039 1516.64L1040 1500.54L1041 1484.66L1042 1469.05L1043 1453.79L1044 1438.92L1045 1424.51L1046 1410.59L1047 1397.21L1048 1384.40L1049 1372.18L1050 1360.58L1051 1349.62L1052 1339.30L1053 1329.63L1054 1320.60L1055 1312.21L1056 1304.45L1057 1297.28L1058 1290.71L1059 1284.70L1060 1279.23L1061 1274.27L1062 1269.80L1063 1265.78L1064 1262.18L1065 1258.99L1066 1256.16L1067 1253.67L1068 1251.50L1069 1249.61L1070 1247.99L1071 1246.60L1072 1245.43L1073 1244.46L1074 1243.66L1075 1243.02L1076 1242.51L1077 1242.14L1078 1241.87L1079 1241.70L1080 1241.62L1081 1241.61L1082 1241.68L1083 1241.79L1084 1241.96L1085 1242.18L1086 1242.43L1087 1242.71L1088 1243.02L1089 1243.36L1090 1243.71L1091 1244.09L1092 1244.47L1093 1244.87L1094 1245.28L1095 1245.70L1096 1246.12L1097 1246.55L1098 1246.98L1099 1247.42L1100 1247.85L1101 1248.29L1102 1248.73L1103 1249.17L1104 1249.61L1105 1250.04L1106 1250.48L1107 1250.91L1108 1251.34L1109 1251.77L1110 1252.20L1111 1252.62L1112 1253.04L1113 1253.46L1114 1253.87L1115 1254.28L1116 1254.69L1117 1255.09L1118 1255.49L1119 1255.88L1120 1256.27L1121 1256.66L1122 1257.04L1123 1257.42L1124 1257.79L1125 1258.16L1126 1258.52L1127 1258.88L1128 1259.24L1129 1259.58L1130 1259.93L1131 1260.27L1132 1260.60L1133 1260.93L1134 1261.26L1135 1261.58L1136 1261.89L1137 1262.20L1138 1262.50L1139 1262.80L1140 1263.10L1141 1263.38L1142 1263.67L1143 1263.95L1144 1264.22L1145 1264.49L1146 1264.75L1147 1265.01L1148 1265.26L1149 1265.51L1150 1265.75L1151 1265.99L1152 1266.23L1153 1266.45L1154 1266.68L1155 1266.90L1156 1267.11L1157 1267.32L1158 1267.53L1159 1267.73L1160 1267.92L1161 1268.11L1162 1268.30L1163 1268.48L1164 1268.66L1165 1268.83L1166 1269.00L1167 1269.17L1168 1269.33L1169 1269.49L1170 1269.64L1171 1269.79L1172 1269.93L1173 1270.08L1174 1270.21L1175 1270.35L1176 1270.48L1177 1270.60L1178 1270.73L1179 1270.85L1180 1270.96L1181 1271.08L1182 1271.19L1183 1271.29L1184 1271.40L1185 1271.50L1186 1271.59L1187 1271.69L1188 1271.78L1189 1271.87L1190 1271.96L1191 1272.04L1192 1272.12L1193 1272.20L1194 1272.27L1195 1272.35L1196 1272.42L1197 1272.49L1198 1272.55L1199 1272.62L1200 1272.68L1201 1272.74L1202 1272.80L1203 1272.85L1204 1272.91L1205 1272.96L1206 1273.01L1207 1273.06L1208 1273.11L1209 1273.15L1210 1273.19L1211 1273.24L1212 1273.28L1213 1273.32L1214 1273.35L1215 1273.39L1216 1273.42L1217 1273.46L1218 1273.49L1219 1273.52L1220 1273.55L1221 1273.58L1222 1273.61L1223 1273.63L1224 1273.66L1225 1273.68L1226 1273.71L1227 1273.73L1228 1273.75L1229 1273.77L1230 1273.79L1231 1273.81L1232 1273.83L1233 1273.85L1234 1273.86L1235 1273.88L1236 1273.90L1237 1273.91L1238 1273.92L1239 1273.94L1240 1273.95L1241 1273.96L1242 1273.98L1243 1273.99L1244 1274.00L1245 1274.01L1246 1274.02L1247 1274.03L1248 1274.04L1249 1274.05L1250 1274.05L1251 1274.06L1252 1274.07L1253 1274.08L1254 1274.08L1255 1274.09L1256 1274.10L1257 1274.10L1258 1274.11L1259 1274.11L1260 1274.12L1261 1274.12L1262 1274.13L1263 1274.13L1264 1274.14L1265 1274.14L1266 1274.14L1267 1274.15L1268 1274.15L1269 1274.15L1270 1274.16L1271 1274.16L1272 1274.16L1273 1274.16L1274 1274.17L1275 1274.17L1276 1274.17L1277 1274.17L1278 1274.18L1279 1274.18L1280 1274.18L1281 1274.18L1282 1274.18L1283 1274.18L1284 1274.18L1285 1274.19L1286 1274.19L1287 1274.19L1288 1274.19L1289 1274.19L1290 1274.19L1291 1274.19L1292 1274.19L1293 1274.19L1294 1274.19L1295 1274.19L1296 1274.20L1297 1274.20L1298 1274.20L1299 1274.20L1300 1274.20L1301 1274.20L1302 1274.20L1303 1274.20L1304 1274.20L1305 1274.20L1306 1274.20L1307 1274.20L1308 1274.20L1309 1274.20L1310 1274.20L1311 1274.20L1312 1274.20L1313 1274.20L1314 1274.20L1315 1274.20L1316 1274.19L1317 1274.19L1318 1274.19L1319 1274.19L1320 1274.19L1321 1274.19L1322 1274.19L1323 1274.19L1324 1274.19L1325 1274.19L1326 1274.19L1327 1274.18L1328 1274.18L1329 1274.18L1330 1274.18L1331 1274.18L1332 1274.18L1333 1274.17L1334 1274.17L1335 1274.17L1336 1274.17L1337 1274.17L1338 1274.16L1339 1274.16L1340 1274.16L1341 1274.15L1342 1274.15L1343 1274.15L1344 1274.15L1345 1274.14L1346 1274.14L1347 1274.13L1348 1274.13L1349 1274.12L1350 1274.12L1351 1274.12L1352 1274.11L1353 1274.10L1354 1274.10L1355 1274.09L1356 1274.09L1357 1274.08L1358 1274.07L1359 1274.07L1360 1274.06L1361 1274.05L1362 1274.04L1363 1274.03L1364 1274.02L1365 1274.01L1366 1274.00L1367 1273.99L1368 1273.98L1369 1273.97L1370 1273.96L1371 1273.95L1372 1273.93L1373 1273.92L1374 1273.90L1375 1273.89L1376 1273.87L1377 1273.86L1378 1273.84L1379 1273.82L1380 1273.80L1381 1273.78L1382 1273.76L1383 1273.74L1384 1273.72L1385 1273.70L1386 1273.67L1387 1273.65L1388 1273.62L1389 1273.60L1390 1273.57L1391 1273.54L1392 1273.51L1393 1273.48L1394 1273.45L1395 1273.41L1396 1273.38L1397 1273.34L1398 1273.30L1399 1273.26L1400 1273.22L1401 1273.18L1402 1273.13L1403 1273.09L1404 1273.04L1405 1272.99L1406 1272.94L1407 1272.89L1408 1272.83L1409 1272.77L1410 1272.72L1411 1272.65L1412 1272.59L1413 1272.53L1414 1272.46L1415 1272.39L1416 1272.32L1417 1272.24L1418 1272.17L1419 1272.09L1420 1272.01L1421 1271.92L1422 1271.83L1423 1271.74L1424 1271.65L1425 1271.56L1426 1271.46L1427 1271.35L1428 1271.25L1429 1271.14L1430 1271.03L1431 1270.92L1432 1270.80L1433 1270.68L1434 1270.55L1435 1270.43L1436 1270.29L1437 1270.16L1438 1270.02L1439 1269.88L1440 1269.73L1441 1269.58L1442 1269.42L1443 1269.27L1444 1269.10L1445 1268.94L1446 1268.77L1447 1268.59L1448 1268.41L1449 1268.23L1450 1268.04L1451 1267.84L1452 1267.65L1453 1267.44L1454 1267.24L1455 1267.03L1456 1266.81L1457 1266.59L1458 1266.36L1459 1266.13L1460 1265.90L1461 1265.66L1462 1265.41L1463 1265.16L1464 1264.91L1465 1264.65L1466 1264.38L1467 1264.11L1468 1263.84L1469 1263.55L1470 1263.27L1471 1262.98L1472 1262.68L1473 1262.38L1474 1262.08L1475 1261.76L1476 1261.45L1477 1261.13L1478 1260.80L1479 1260.47L1480 1260.13L1481 1259.79L1482 1259.45L1483 1259.09L1484 1258.74L1485 1258.38L1486 1258.01L1487 1257.64L1488 1257.27L1489 1256.89L1490 1256.51L1491 1256.12L1492 1255.73L1493 1255.33L1494 1254.93L1495 1254.53L1496 1254.12L1497 1253.71L1498 1253.29L1499 1252.87L1500 1252.45L1501 1252.03L1502 1251.60L1503 1251.17L1504 1250.74L1505 1250.30L1506 1249.87L1507 1249.43L1508 1248.99L1509 1248.55L1510 1248.12L1511 1247.68L1512 1247.24L1513 1246.81L1514 1246.38L1515 1245.95L1516 1245.53L1517 1245.12L1518 1244.71L1519 1244.32L1520 1243.94L1521 1243.57L1522 1243.22L1523 1242.90L1524 1242.59L1525 1242.32L1526 1242.09L1527 1241.89L1528 1241.74L1529 1241.64L1530 1241.61L1531 1241.64L1532 1241.76L1533 1241.96L1534 1242.27L1535 1242.70L1536 1243.25L1537 1243.96L1538 1244.83L1539 1245.88L1540 1247.13L1541 1248.61L1542 1250.34L1543 1252.33L1544 1254.63L1545 1257.25L1546 1260.22L1547 1263.57L1548 1267.33L1549 1271.53L1550 1276.20L1551 1281.36L1552 1287.04L1553 1293.27L1554 1300.08L1555 1307.48L1556 1315.49L1557 1324.14L1558 1333.42L1559 1343.35L1560 1353.93L1561 1365.15L1562 1376.99L1563 1389.45L1564 1402.50L1565 1416.10L1566 1430.22L1567 1444.82L1568 1459.85L1569 1475.26L1570 1490.98L1571 1506.96L1572 1523.11L1573 1539.33L1574 1555.49L1575 1571.43L1576 1586.94L1577 1601.80L1578 1615.72L1579 1628.38L1580 1639.48L1581 1648.72L1582 1655.83L1582.13 1656.60L1583 1660.59L1583.13 1661.04L1584 1662.76L1584.13 1662.82L1585 1662.81L1585.13 1662.81L1586 1662.81L1586.13 1662.81L1587 1662.82L1587.13 1662.82L1588 1661.44L1588.13 1661.04L1589 1657.34L1589.13 1656.60L1590 1650.83L1591 1642.14L1592 1631.50L1593 1619.23L1594 1605.62L1595 1590.98L1596 1575.61L1597 1559.76L1598 1543.65L1599 1527.43L1600 1511.25L1601 1495.22L1602 1479.42L1603 1463.92L1604 1448.79L1605 1434.07L1606 1419.81L1607 1406.07L1608 1392.87L1609 1380.26L1610 1368.24L1611 1356.86L1612 1346.11L1613 1336.01L1614 1326.55L1615 1317.74L1616 1309.56L1617 1301.99L1618 1295.03L1619 1288.65L1620 1282.82L1621 1277.52L1622 1272.73L1623 1268.41L1624 1264.53L1625 1261.08L1626 1258.01L1627 1255.30L1628 1252.92L1629 1250.84L1630 1249.04L1631 1247.50L1632 1246.19L1633 1245.09L1634 1244.17L1635 1243.43L1636 1242.83L1637 1242.37L1638 1242.04L1639 1241.80L1640 1241.67L1641 1241.61L1642 1241.63L1643 1241.71L1644 1241.85L1645 1242.03L1646 1242.26L1647 1242.52L1648 1242.81L1649 1243.13L1650 1243.48L1651 1243.84L1652 1244.21L1653 1244.61L1654 1245.01L1655 1245.42L1656 1245.84L1657 1246.26L1658 1246.69L1659 1247.13L1660 1247.56L1661 1248.00L1662 1248.44L1663 1248.88L1664 1249.31L1665 1249.75L1666 1250.19L1667 1250.62L1668 1251.05L1669 1251.49L1670 1251.91L1671 1252.34L1672 1252.76L1673 1253.18L1674 1253.60L1675 1254.01L1676 1254.42L1677 1254.82L1678 1255.22L1679 1255.62L1680 1256.01L1681 1256.40L1682 1256.79L1683 1257.17L1684 1257.54L1685 1257.91L1686 1258.28L1687 1258.64L1688 1259.00L1689 1259.35L1690 1259.70L1691 1260.04L1692 1260.38L1693 1260.71L1694 1261.04L1695 1261.36L1696 1261.68L1697 1261.99L1698 1262.30L1699 1262.60L1700 1262.90L1701 1263.19L1702 1263.48L1703 1263.76L1704 1264.04L1705 1264.31L1706 1264.58L1707 1264.84L1708 1265.09L1709 1265.35L1710 1265.59L1711 1265.83L1712 1266.07L1713 1266.30L1714 1266.53L1715 1266.75L1716 1266.97L1717 1267.18L1718 1267.39L1719 1267.59L1720 1267.79L1721 1267.99L1722 1268.18L1723 1268.36L1724 1268.54L1725 1268.72L1726 1268.89L1727 1269.06L1728 1269.22L1729 1269.38L1730 1269.54L1731 1269.69L1732 1269.84L1733 1269.98L1734 1270.12L1735 1270.26L1736 1270.39L1737 1270.52L1738 1270.65L1739 1270.77L1740 1270.89L1741 1271.00L1742 1271.11L1743 1271.22L1744 1271.33L1745 1271.43L1746 1271.53L1747 1271.63L1748 1271.72L1749 1271.81L1750 1271.90L1751 1271.98L1752 1272.07L1753 1272.15L1754 1272.22L1755 1272.30L1756 1272.37L1757 1272.44L1758 1272.51L1759 1272.57L1760 1272.64L1761 1272.70L1762 1272.76L1763 1272.82L1764 1272.87L1765 1272.93L1766 1272.98L1767 1273.03L1768 1273.07L1769 1273.12L1770 1273.17L1771 1273.21L1772 1273.25L1773 1273.29L1774 1273.33L1775 1273.37L1776 1273.40L1777 1273.44L1778 1273.47L1779 1273.50L1780 1273.53L1781 1273.56L1782 1273.59L1783 1273.62L1784 1273.64L1785 1273.67L1786 1273.69L1787 1273.72L1788 1273.74L1789 1273.76L1790 1273.78L1791 1273.80L1792 1273.82L1793 1273.84L1794 1273.85L1795 1273.87L1796 1273.89L1797 1273.90L1798 1273.92L1799 1273.93L1800 1273.94L1801 1273.96L1802 1273.97L1803 1273.98L1804 1273.99L1805 1274.00L1806 1274.01L1807 1274.02L1808 1274.03L1809 1274.04L1810 1274.05L1811 1274.06L1812 1274.06L1813 1274.07L1814 1274.08L1815 1274.08L1816 1274.09L1817 1274.10L1818 1274.10L1819 1274.11L1820 1274.11L1821 1274.12L1822 1274.12L1823 1274.13L1824 1274.13L1825 1274.14L1826 1274.14L1827 1274.14L1828 1274.15L1829 1274.15L1830 1274.15L1831 1274.16L1832 1274.16L1833 1274.16L1834 1274.17L1835 1274.17L1836 1274.17L1837 1274.17L1838 1274.17L1839 1274.18L1840 1274.18L1841 1274.18L1842 1274.18L1843 1274.18L1844 1274.18L1845 1274.19L1846 1274.19L1847 1274.19L1848 1274.19L1849 1274.19L1850 1274.19L1851 1274.19L1852 1274.19L1853 1274.19L1854 1274.19L1855 1274.19L1856 1274.19L1857 1274.20L1858 1274.20L1859 1274.20L1860 1274.20L1861 1274.20L1862 1274.20L1863 1274.20L1864 1274.20L1865 1274.20L1866 1274.20" fill="none" stroke="#f00" stroke-width="10.40" stroke-linejoin="round" stroke-linecap="butt"/></g>
<rect x="1864" y="714" width="2" height="13" fill="#f00"/>
<line x1="669.9" y1="189.9" x2="697.0" y2="275.1" stroke="#000" stroke-width="4.0"/><polygon points="706.1,303.7 683.4,279.4 710.6,270.8" fill="#000"/>
<line x1="1063.0" y1="190.8" x2="1036.7" y2="275.1" stroke="#000" stroke-width="4.0" stroke-dasharray="4.5 5.9"/><polygon points="1027.7,303.7 1023.1,270.8 1050.3,279.3" fill="#000"/>
</svg>
<div class="t" id="ytick-left-15"><span style="font-family:'Liberation Sans',sans-serif;font-size:55.5px;color:#000;letter-spacing:-2px;transform:translate(106.11px,6.85px) scale(0.97,1);clip-path:polygon(0.0px 0.0px,72.2px 0.0px,72.2px 55.5px,30.5px 55.5px,30.5px 41.1px,19.4px 41.1px,19.4px 55.5px,13.5px 55.5px,13.5px 41.1px,0.0px 41.1px);">15</span></div>
<div class="t" id="ytick-left-0"><span style="font-family:'Liberation Sans',sans-serif;font-size:55.5px;color:#000;transform:translate(130px,1336.55px);">0</span></div>
<div class="t" id="ytick-right-2"><span style="font-family:'Liberation Sans',sans-serif;font-size:52px;color:#f00;transform:translate(1905.08px,9.3px) scale(1.06,1);">2</span></div>
<div class="t" id="ytick-right-1"><span style="font-family:'Liberation Sans',sans-serif;font-size:52px;color:#f00;transform:translate(1905.1px,667.7px) scale(1.2,1);clip-path:polygon(0.0px 0.0px,52.0px 0.0px,52.0px 38.4px,18.2px 38.4px,18.2px 52.0px,12.6px 52.0px,12.6px 38.4px,0.0px 38.4px);">1</span></div>
<div class="t" id="ytick-right-0"><span style="font-family:'Liberation Sans',sans-serif;font-size:52px;color:#f00;transform:translate(1905.37px,1313.21px) scale(1.04,0.99);">0</span></div>
<div class="t" id="xtick-1"><span style="font-family:'Liberation Serif',serif;font-size:52px;color:#2a2a2a;font-style:italic;transform:translate(570.6px,1394.04px) scale(1.0296,0.924);">π</span><span style="font-family:'Liberation Sans',sans-serif;font-size:55.5px;color:#000;transform:translate(597.6px,1388.85px);">/2</span></div>
<div class="t" id="xtick-2"><span style="font-family:'Liberation Serif',serif;font-size:52px;color:#2a2a2a;font-style:italic;transform:translate(1011.7px,1394.22px) scale(1.0407,0.92);">π</span></div>
<div class="t" id="xtick-3"><span style="font-family:'Liberation Sans',sans-serif;font-size:55.5px;color:#000;transform:translate(1390.55px,1388.6px);">3</span><span style="font-family:'Liberation Serif',serif;font-size:52px;color:#2a2a2a;font-style:italic;transform:translate(1426.7px,1394.4px) scale(1.037,0.916);">π</span><span style="font-family:'Liberation Sans',sans-serif;font-size:55.5px;color:#000;transform:translate(1451.4px,1388.95px);">/2</span></div>
<div class="t" id="xtick-4"><span style="font-family:'Liberation Sans',sans-serif;font-size:55.5px;color:#000;transform:translate(1831.35px,1388.45px);">2</span><span style="font-family:'Liberation Serif',serif;font-size:52px;color:#2a2a2a;font-style:italic;transform:translate(1866.9px,1394.22px) scale(1.0815,0.92);">π</span></div>
<div class="t" id="xlabel"><span style="font-family:'Liberation Serif',serif;font-size:58px;color:#000;transform:translate(799.92px,1457.48px) scale(0.9838,1.0269);">Azimuth angle(rad)</span></div>
<div class="t" id="ylabel-left"><span style="font-family:'Liberation Serif',serif;font-size:72px;color:#000;transform:translate(2.22px,810.22px) scale(1.0292,1.016) rotate(-90deg);">V</span><span style="font-family:'Liberation Serif',serif;font-size:56px;color:#000;transform:translate(21.47px,757.52px) scale(0.9175,0.958) rotate(-90deg);">eq</span><span style="font-family:'Liberation Serif',serif;font-size:72px;color:#000;transform:translate(2.75px,705.57px) scale(1.0246,0.9938) rotate(-90deg);"> (m/s)</span></div>
<div class="t" id="ylabel-right"><span style="font-family:'Liberation Serif',serif;font-size:72px;color:#f00;transform:translate(2073.65px,547.71px) scale(1.0809,1.0457) rotate(90deg);">P</span><span style="font-family:'Liberation Serif',serif;font-size:52px;color:#f00;transform:translate(2054.84px,591.3px) scale(1.0568,1.0208) rotate(90deg);">b</span><span style="font-family:'Liberation Serif',serif;font-size:72px;color:#f00;transform:translate(2072.06px,616.32px) scale(1.0462,1.004) rotate(90deg);"> (p.u.)</span></div>
<div class="t" id="ann-veq"><span style="font-family:'Liberation Serif',serif;font-size:90px;color:#000;font-style:italic;transform:translate(576.73px,72.03px) scale(0.8932,1.0115);">V</span><span style="font-family:'DejaVu Serif','Liberation Serif',serif;font-size:64px;color:#000;font-style:italic;transform:translate(613.97px,115.15px) scale(0.9425,0.9574);">eq</span></div>
<div class="t" id="ann-vwind"><span style="font-family:'Liberation Serif',serif;font-size:90px;color:#000;font-style:italic;transform:translate(1009.63px,72.03px) scale(0.9136,1.0115);">V</span><span style="font-family:'DejaVu Serif','Liberation Serif',serif;font-size:60px;color:#000;font-style:italic;letter-spacing:5px;transform:translate(1054.12px,117.01px) scale(1.0455,0.9652);">Wind</span></div>
<div class="t" id="ann-pb"><span style="font-family:'Liberation Serif',serif;font-size:90px;color:#f00;font-style:italic;transform:translate(1288.4px,609.02px) scale(0.9604,1.0322);">P</span><span style="font-family:'DejaVu Serif','Liberation Serif',serif;font-size:64px;color:#f00;font-style:italic;transform:translate(1331.92px,655.29px) scale(1.0265,0.8857);">b</span></div>
</div></div></body></html>
